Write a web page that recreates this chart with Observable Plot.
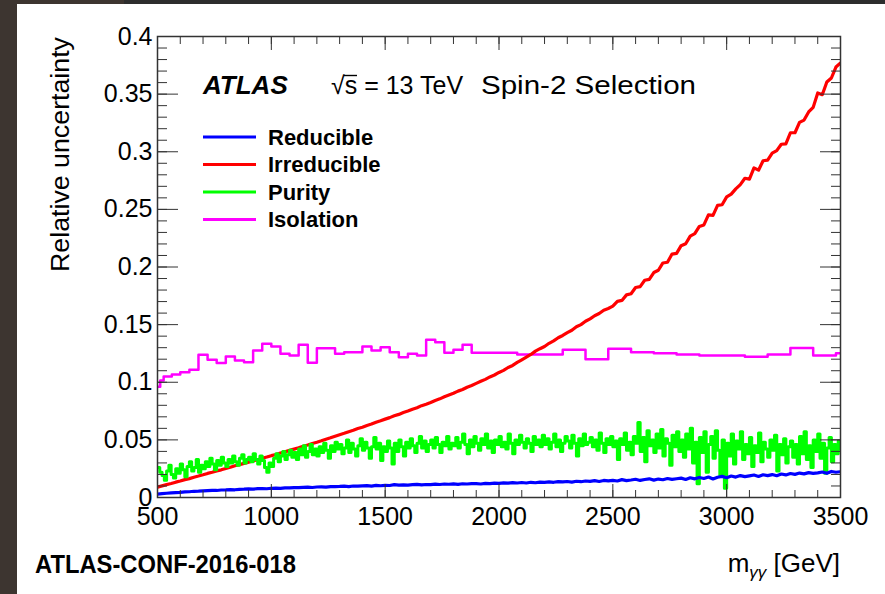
<!DOCTYPE html>
<html>
<head>
<meta charset="utf-8">
<script src="https://cdn.jsdelivr.net/npm/d3@7"></script>
<script src="https://cdn.jsdelivr.net/npm/@observablehq/plot@0.6"></script>
<style>
  html, body { margin: 0; padding: 0; background: #ffffff; }
  #page { position: relative; width: 885px; height: 594px; overflow: hidden; background: #ffffff; font-family: "Liberation Sans", Arial, sans-serif; }
  #stripL { position: absolute; left: 0; top: 0; width: 17px; height: 594px; background: #3d3530; }
  #stripT1 { position: absolute; left: 0; top: 0; width: 124px; height: 4px; background: #3d3530; }
  #stripT2 { position: absolute; left: 124px; top: 0; width: 761px; height: 4px; background: #2d2d2d; }
  #chart { position: absolute; left: 0; top: 0; }
  #overlay { position: absolute; left: 0; top: 0; }
</style>
</head>
<body>
<div id="page">
  <div id="stripL"></div><div id="stripT1"></div><div id="stripT2"></div>
  <div id="chart"></div>
  <svg id="overlay" width="885" height="594"></svg>
</div>
<script>
// ---- data ----
// 20 GeV bins (edges 500 .. 3500) for Reducible / Irreducible
const binEdges20 = d3.range(500, 3501, 20);
// 10 GeV bins (edges 500 .. 3500) for Purity
const binEdges10 = d3.range(500, 3501, 10);

const irreducible = [
  0.0090, 0.0101, 0.0112, 0.0121, 0.0133,
  0.0143, 0.0155, 0.0164, 0.0176, 0.0186,
  0.0197, 0.0209, 0.0219, 0.0231, 0.0240,
  0.0252, 0.0262, 0.0275, 0.0285, 0.0296,
  0.0307, 0.0318, 0.0328, 0.0341, 0.0351,
  0.0363, 0.0373, 0.0386, 0.0396, 0.0409,
  0.0420, 0.0431, 0.0445, 0.0455, 0.0469,
  0.0480, 0.0492, 0.0506, 0.0518, 0.0532,
  0.0545, 0.0557, 0.0571, 0.0583, 0.0598,
  0.0610, 0.0625, 0.0637, 0.0653, 0.0666,
  0.0680, 0.0693, 0.0709, 0.0721, 0.0737,
  0.0750, 0.0766, 0.0779, 0.0797, 0.0810,
  0.0825, 0.0842, 0.0856, 0.0874, 0.0889,
  0.0905, 0.0923, 0.0937, 0.0957, 0.0972,
  0.0990, 0.1008, 0.1025, 0.1046, 0.1063,
  0.1085, 0.1103, 0.1128, 0.1146, 0.1172,
  0.1195, 0.1218, 0.1241, 0.1270, 0.1291,
  0.1310, 0.1338, 0.1359, 0.1386, 0.1406,
  0.1430, 0.1451, 0.1481, 0.1500, 0.1529,
  0.1550, 0.1577, 0.1596, 0.1625, 0.1640,
  0.1660, 0.1702, 0.1710, 0.1758, 0.1768,
  0.1822, 0.1830, 0.1885, 0.1893, 0.1952,
  0.1972, 0.2035, 0.2041, 0.2112, 0.2118,
  0.2185, 0.2202, 0.2268, 0.2289, 0.2352,
  0.2365, 0.2452, 0.2448, 0.2535, 0.2540,
  0.2608, 0.2632, 0.2678, 0.2715, 0.2770,
  0.2762, 0.2860, 0.2840, 0.2922, 0.2928,
  0.2988, 0.3010, 0.3065, 0.3068, 0.3165,
  0.3165, 0.3255, 0.3275, 0.3345, 0.3385,
  0.3510, 0.3495, 0.3605, 0.3640, 0.3735,
  0.3770
];

const purity = [
  0.026, 0.022, 0.019, 0.015, 0.023, 0.028, 0.020, 0.017, 0.025, 0.021,
  0.029, 0.024, 0.018, 0.027, 0.031, 0.023, 0.026, 0.033, 0.022, 0.028,
  0.025, 0.031, 0.027, 0.034, 0.029, 0.024, 0.032, 0.028, 0.035, 0.030,
  0.027, 0.033, 0.030, 0.036, 0.031, 0.028, 0.034, 0.037, 0.030, 0.033,
  0.035, 0.031, 0.038, 0.033, 0.029, 0.036, 0.032, 0.026, 0.022, 0.030,
  0.027, 0.034, 0.038, 0.031, 0.036, 0.040, 0.033, 0.037, 0.041, 0.035,
  0.039, 0.033, 0.042, 0.037, 0.045, 0.035, 0.040, 0.046, 0.037, 0.042,
  0.036, 0.044, 0.039, 0.047, 0.041, 0.034, 0.045, 0.040, 0.048, 0.042,
  0.046, 0.038, 0.043, 0.050, 0.039, 0.047, 0.042, 0.036, 0.045, 0.051,
  0.041, 0.048, 0.043, 0.034, 0.044, 0.052, 0.042, 0.047, 0.032, 0.044,
  0.040, 0.049, 0.043, 0.029, 0.047, 0.040, 0.050, 0.044, 0.036, 0.048,
  0.043, 0.051, 0.045, 0.039, 0.047, 0.053, 0.043, 0.049, 0.040, 0.046,
  0.050, 0.043, 0.052, 0.046, 0.039, 0.048, 0.045, 0.053, 0.042, 0.047,
  0.045, 0.052, 0.043, 0.048, 0.055, 0.046, 0.038, 0.050, 0.044, 0.053,
  0.047, 0.041, 0.051, 0.046, 0.055, 0.043, 0.049, 0.039, 0.050, 0.046,
  0.053, 0.044, 0.048, 0.042, 0.055, 0.047, 0.038, 0.050, 0.046, 0.054,
  0.048, 0.043, 0.051, 0.047, 0.040, 0.053, 0.046, 0.050, 0.044, 0.054,
  0.046, 0.051, 0.042, 0.048, 0.055, 0.044, 0.050, 0.040, 0.047, 0.053,
  0.049, 0.043, 0.054, 0.047, 0.036, 0.051, 0.045, 0.055, 0.046, 0.048,
  0.052, 0.044, 0.050, 0.041, 0.056, 0.047, 0.039, 0.051, 0.046, 0.053,
  0.044, 0.049, 0.033, 0.051, 0.046, 0.056, 0.041, 0.048, 0.037, 0.053,
  0.047, 0.065, 0.040, 0.052, 0.031, 0.058, 0.045, 0.050, 0.039, 0.055,
  0.043, 0.059, 0.036, 0.051, 0.047, 0.028, 0.054, 0.044, 0.057, 0.040,
  0.050, 0.035, 0.055, 0.042, 0.060, 0.030, 0.048, 0.012, 0.052, 0.039,
  0.057, 0.022, 0.046, 0.053, 0.034, 0.058, 0.041, 0.019, 0.050, 0.008,
  0.047, 0.036, 0.055, 0.029, 0.049, 0.042, 0.057, 0.033, 0.046, 0.038,
  0.052, 0.027, 0.045, 0.039, 0.056, 0.031, 0.048, 0.042, 0.035, 0.050,
  0.041, 0.054, 0.023, 0.046, 0.037, 0.051, 0.030, 0.044, 0.049, 0.035,
  0.046, 0.029, 0.053, 0.038, 0.057, 0.033, 0.045, 0.026, 0.050, 0.040,
  0.055, 0.034, 0.047, 0.021, 0.043, 0.052, 0.031, 0.046, 0.038, 0.049,
  0.042
];

const reducible = [
  0.0030, 0.0034, 0.0037, 0.0040, 0.0043,
  0.0045, 0.0049, 0.0050, 0.0054, 0.0055,
  0.0058, 0.0060, 0.0062, 0.0061, 0.0065,
  0.0066, 0.0068, 0.0067, 0.0071, 0.0072,
  0.0074, 0.0073, 0.0077, 0.0078, 0.0076,
  0.0080, 0.0082, 0.0079, 0.0084, 0.0083,
  0.0086, 0.0085, 0.0088, 0.0090, 0.0087,
  0.0091, 0.0093, 0.0090, 0.0095, 0.0094,
  0.0096, 0.0099, 0.0095, 0.0100, 0.0098,
  0.0101, 0.0103, 0.0099, 0.0105, 0.0102,
  0.0106, 0.0104, 0.0112, 0.0107, 0.0109,
  0.0108, 0.0111, 0.0114, 0.0109, 0.0113,
  0.0112, 0.0116, 0.0113, 0.0117, 0.0115,
  0.0118, 0.0114, 0.0119, 0.0117, 0.0121,
  0.0120, 0.0117, 0.0123, 0.0121, 0.0125,
  0.0122, 0.0127, 0.0124, 0.0129, 0.0126,
  0.0130, 0.0126, 0.0132, 0.0128, 0.0134,
  0.0131, 0.0136, 0.0132, 0.0138, 0.0135,
  0.0139, 0.0134, 0.0141, 0.0137, 0.0143,
  0.0140, 0.0146, 0.0139, 0.0148, 0.0144,
  0.0149, 0.0143, 0.0155, 0.0147, 0.0152,
  0.0158, 0.0148, 0.0156, 0.0162, 0.0151,
  0.0160, 0.0154, 0.0165, 0.0157, 0.0163,
  0.0168, 0.0156, 0.0171, 0.0162, 0.0174,
  0.0165, 0.0178, 0.0161, 0.0176, 0.0183,
  0.0172, 0.0186, 0.0177, 0.0190, 0.0181,
  0.0188, 0.0195, 0.0183, 0.0197, 0.0190,
  0.0199, 0.0189, 0.0204, 0.0196, 0.0208,
  0.0201, 0.0212, 0.0205, 0.0216, 0.0209,
  0.0214, 0.0221, 0.0210, 0.0226, 0.0219,
  0.0224
];

// Isolation: variable-width bins (lower edges) and values; last value repeated at 3500
const isoEdges = [500, 512, 527, 563, 600, 640, 680, 720, 760, 800, 840, 880, 920, 960, 1000,
  1040, 1080, 1120, 1160, 1200, 1280, 1320, 1400, 1440, 1480, 1520, 1560, 1600, 1640, 1680,
  1720, 1760, 1800, 1840, 1880, 2080, 2280, 2380, 2480, 2580, 2680, 2780, 2880, 3080, 3180,
  3280, 3380, 3480, 3500];
const isolation = [0.096, 0.1015, 0.105, 0.1067, 0.1087, 0.1108, 0.1238, 0.1195, 0.1166, 0.1223,
  0.1189, 0.1174, 0.1275, 0.1333, 0.1310, 0.1247, 0.1232, 0.1325, 0.1169, 0.1296, 0.1247,
  0.1261, 0.1310, 0.1275, 0.1304, 0.1261, 0.1217, 0.1247, 0.1232, 0.1368, 0.1348, 0.1255,
  0.1282, 0.1325, 0.1255, 0.1241, 0.1282, 0.1200, 0.1290, 0.1261, 0.1252, 0.1241, 0.1232,
  0.1221, 0.1241, 0.1298, 0.1232, 0.1252, 0.1252];

const seriesNames = ["Reducible", "Irreducible", "Purity", "Isolation"];
const seriesColors = ["#0000ff", "#ff0000", "#00ff00", "#ff00ff"];

const xMajor = [500, 1000, 1500, 2000, 2500, 3000, 3500];
const xMinor = d3.range(500, 3501, 100);
const yMajor = [0, 0.05, 0.1, 0.15, 0.2, 0.25, 0.3, 0.35, 0.4];
const yMinor = d3.range(0, 41, 1).map(d => d / 100);

// ---- build tables ----
const mk = (xs, ys) => xs.map((x, i) => ({x, y: ys[i]}));
const redData = mk(binEdges20, irreducible);
const greenData = mk(binEdges10, purity);
const blueData = mk(binEdges20, reducible);
const magData = mk(isoEdges, isolation);

const blank = () => "";
const axisStroke = "#333";

const chart = Plot.plot({
  width: 885,
  height: 594,
  marginLeft: 157,
  marginRight: 45,
  marginTop: 36,
  marginBottom: 97,
  style: {background: "transparent", fontFamily: "'Liberation Sans', Arial, sans-serif", color: "#000"},
  x: {domain: [500, 3500]},
  y: {domain: [0, 0.4]},
  marks: [
    Plot.line(magData, {x: "x", y: "y", curve: "step-after", stroke: seriesColors[3], strokeWidth: 2.5, clip: true}),
    Plot.line(redData, {x: "x", y: "y", curve: "linear", stroke: seriesColors[1], strokeWidth: 3.2, clip: true}),
    Plot.line(greenData, {x: "x", y: "y", curve: "step-after", stroke: seriesColors[2], strokeWidth: 3, clip: true}),
    Plot.line(blueData, {x: "x", y: "y", curve: "linear", stroke: seriesColors[0], strokeWidth: 3.2, clip: true}),
    // inward ticks, all four sides
    Plot.axisX({anchor: "bottom", ticks: xMinor, tickSize: -7, tickFormat: blank, label: null, stroke: axisStroke}),
    Plot.axisX({anchor: "bottom", ticks: xMajor, tickSize: -13, tickFormat: blank, label: null, stroke: axisStroke}),
    Plot.axisX({anchor: "top", ticks: xMinor, tickSize: -7, tickFormat: blank, label: null, stroke: axisStroke}),
    Plot.axisX({anchor: "top", ticks: xMajor, tickSize: -13, tickFormat: blank, label: null, stroke: axisStroke}),
    Plot.axisY({anchor: "left", ticks: yMinor, tickSize: -10, tickFormat: blank, label: null, stroke: axisStroke}),
    Plot.axisY({anchor: "left", ticks: yMajor, tickSize: -21, tickFormat: blank, label: null, stroke: axisStroke}),
    Plot.axisY({anchor: "right", ticks: yMinor, tickSize: -10, tickFormat: blank, label: null, stroke: axisStroke}),
    Plot.axisY({anchor: "right", ticks: yMajor, tickSize: -21, tickFormat: blank, label: null, stroke: axisStroke}),
    // tick labels
    Plot.axisX({anchor: "bottom", ticks: xMajor, tickSize: 0, tickPadding: 10, fontSize: 25, label: null, tickFormat: d => String(d), fill: "#000"}),
    Plot.axisY({anchor: "left", ticks: yMajor, tickSize: 0, tickPadding: 5, fontSize: 25, label: null, tickFormat: d => String(+d.toFixed(2)), fill: "#000"}),
    Plot.frame({stroke: axisStroke, strokeWidth: 1.5})
  ]
});
document.getElementById("chart").appendChild(chart);

// ---- annotations (titles, header, legend) ----
const ov = d3.select("#overlay").style("font-family", "'Liberation Sans', Arial, sans-serif");

// y-axis title
ov.append("text")
  .attr("transform", "translate(69,37) rotate(-90)")
  .attr("text-anchor", "end")
  .attr("font-size", 26)
  .attr("textLength", 235)
  .attr("lengthAdjust", "spacingAndGlyphs")
  .attr("fill", "#000")
  .text("Relative uncertainty");

// x-axis title m_γγ [GeV]
const xt = ov.append("text").attr("x", 840).attr("y", 572).attr("text-anchor", "end").attr("font-size", 26).attr("fill", "#000");
xt.append("tspan").text("m");
xt.append("tspan").attr("font-size", 17).attr("font-style", "italic").attr("dy", 6).text("γγ");
xt.append("tspan").attr("dy", -6).text(" [GeV]");

// caption
ov.append("text").attr("x", 35).attr("y", 573).attr("font-size", 25).attr("font-weight", "bold")
  .attr("textLength", 261).attr("lengthAdjust", "spacingAndGlyphs")
  .attr("fill", "#000").text("ATLAS-CONF-2016-018");

// header
ov.append("text").attr("x", 203).attr("y", 94).attr("font-size", 26).attr("font-weight", "bold")
  .attr("font-style", "italic").attr("fill", "#000").text("ATLAS");
ov.append("text").attr("x", 331).attr("y", 94).attr("font-size", 25).attr("fill", "#000").text("√s = 13 TeV");
ov.append("line").attr("x1", 344).attr("x2", 357).attr("y1", 75.5).attr("y2", 75.5)
  .attr("stroke", "#000").attr("stroke-width", 1.4);
ov.append("text").attr("x", 481).attr("y", 94).attr("font-size", 26).attr("fill", "#000")
  .attr("textLength", 215).attr("lengthAdjust", "spacingAndGlyphs").text("Spin-2 Selection");

// legend
const legendY = [137, 164.5, 192, 219.5];
seriesNames.forEach((name, i) => {
  ov.append("line").attr("x1", 203).attr("x2", 256).attr("y1", legendY[i]).attr("y2", legendY[i])
    .attr("stroke", seriesColors[i]).attr("stroke-width", 3);
  ov.append("text").attr("x", 268).attr("y", legendY[i] + 7.5).attr("font-size", 22).attr("font-weight", "bold")
    .attr("fill", "#000").text(name);
});
</script>
</body>
</html>
